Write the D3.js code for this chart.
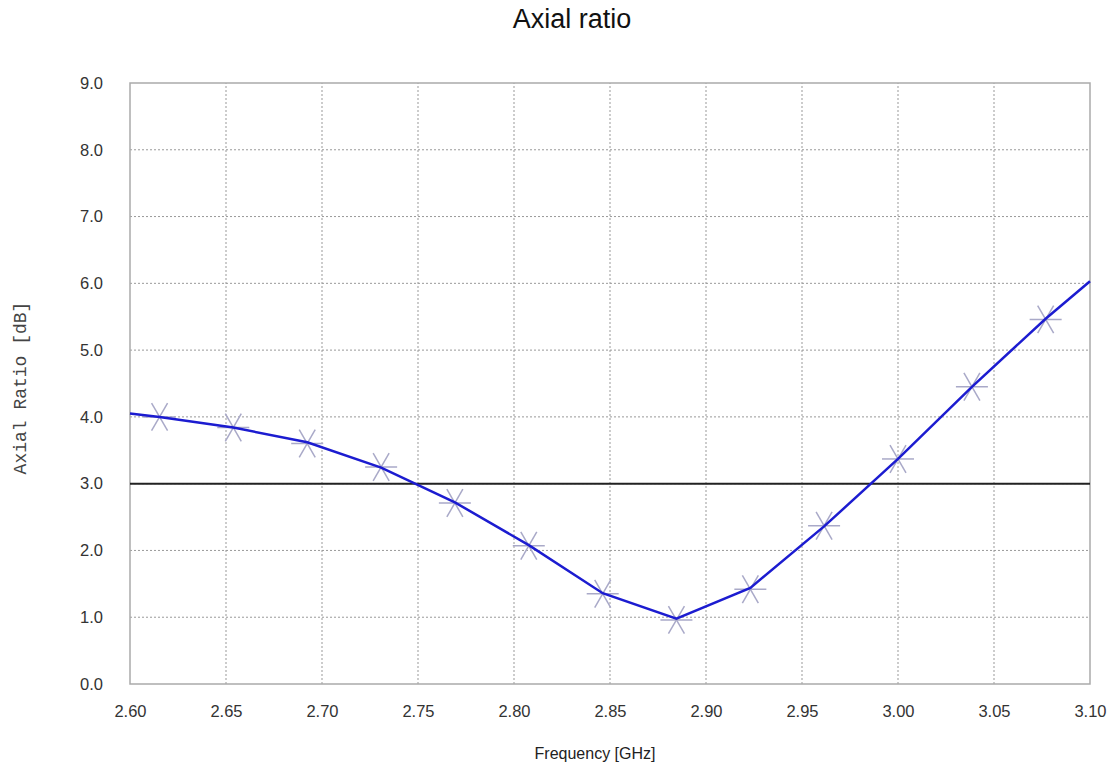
<!DOCTYPE html>
<html>
<head>
<meta charset="utf-8">
<script src="https://cdn.jsdelivr.net/npm/d3@7"></script>
<style>
  body { margin: 0; background: #fff; }
  text { font-family: "Liberation Sans", Arial, sans-serif; }
</style>
</head>
<body>
<script>
// curve values (line goes from plot edge to plot edge through the measured points)
var lineFreq = [2.600, 2.6154, 2.6538, 2.6923, 2.7308, 2.7692, 2.8077, 2.8462, 2.8846, 2.9231, 2.9615, 3.000, 3.0385, 3.0769, 3.100];
var lineAR   = [4.05, 4.00, 3.84, 3.62, 3.24, 2.72, 2.08, 1.36, 0.98, 1.44, 2.36, 3.37, 4.45, 5.47, 6.03];
// asterisk markers
var markFreq = [2.6154, 2.6538, 2.6923, 2.7308, 2.7692, 2.8077, 2.8462, 2.8846, 2.9231, 2.9615, 3.000, 3.0385, 3.0769];
var markAR   = [4.00, 3.84, 3.60, 3.25, 2.71, 2.07, 1.35, 0.96, 1.42, 2.37, 3.37, 4.45, 5.46];
var xTicks = [2.60, 2.65, 2.70, 2.75, 2.80, 2.85, 2.90, 2.95, 3.00, 3.05, 3.10];
var yTicks = [0, 1, 2, 3, 4, 5, 6, 7, 8, 9];
var limit = 3.0;

var w = 1112, h = 767;
var margin = {left: 130, right: 22, top: 83, bottom: 83};
var svg = d3.select("body").append("svg").attr("width", w).attr("height", h);

var x = d3.scaleLinear().domain([2.6, 3.1]).range([margin.left, w - margin.right]);
var y = d3.scaleLinear().domain([0, 9]).range([h - margin.bottom, margin.top]);

// grid
svg.append("g").selectAll("line").data(xTicks.slice(1, -1)).enter().append("line")
    .attr("x1", d => x(d)).attr("x2", d => x(d))
    .attr("y1", y(0)).attr("y2", y(9))
    .attr("stroke", "#999").attr("stroke-width", 1).attr("stroke-dasharray", "2,2");
svg.append("g").selectAll("line").data(yTicks.slice(1, -1)).enter().append("line")
    .attr("x1", x(2.6)).attr("x2", x(3.1))
    .attr("y1", d => y(d)).attr("y2", d => y(d))
    .attr("stroke", "#999").attr("stroke-width", 1).attr("stroke-dasharray", "2,2");

// frame
svg.append("rect")
    .attr("x", x(2.6)).attr("y", y(9))
    .attr("width", x(3.1) - x(2.6)).attr("height", y(0) - y(9))
    .attr("fill", "none").attr("stroke", "#aaa").attr("stroke-width", 1.5);

// axes
var xAxis = svg.append("g").attr("transform", "translate(0," + y(0) + ")")
    .call(d3.axisBottom(x).tickValues(xTicks).tickFormat(d3.format(".2f")).tickSize(0).tickPadding(21));
var yAxis = svg.append("g").attr("transform", "translate(" + x(2.6) + ",0)")
    .call(d3.axisLeft(y).tickValues(yTicks).tickFormat(d3.format(".1f")).tickSize(0).tickPadding(27));
[xAxis, yAxis].forEach(function(a) {
    a.select(".domain").remove();
    a.selectAll("text").attr("fill", "#333").style("font-size", "16.5px")
        .style("font-family", "'Liberation Sans', Arial, sans-serif");
});

// 3 dB limit
svg.append("line")
    .attr("x1", x(2.6)).attr("x2", x(3.1))
    .attr("y1", y(limit)).attr("y2", y(limit))
    .attr("stroke", "#222").attr("stroke-width", 2);

// markers (six-armed asterisk)
var arm = 16;
var mk = svg.append("g").selectAll("g").data(markFreq).enter().append("g")
    .attr("transform", (d, i) => "translate(" + x(d) + "," + y(markAR[i]) + ")")
    .attr("stroke", "#a9a9c8").attr("stroke-width", 1.5);
[0, 60, 120].forEach(function(a) {
    var r = a * Math.PI / 180;
    mk.append("line")
        .attr("x1", -arm * Math.cos(r)).attr("y1", -arm * Math.sin(r))
        .attr("x2", arm * Math.cos(r)).attr("y2", arm * Math.sin(r));
});

// curve
var pts = lineFreq.map((f, i) => [x(f), y(lineAR[i])]);
svg.append("path")
    .attr("d", d3.line()(pts))
    .attr("fill", "none").attr("stroke", "#1c1cd0").attr("stroke-width", 2.5);

// titles
svg.append("text").attr("x", 572).attr("y", 28).attr("text-anchor", "middle")
    .style("font-size", "27px").attr("fill", "#111").text("Axial ratio");
svg.append("text").attr("x", 595).attr("y", 759).attr("text-anchor", "middle")
    .style("font-size", "16px").attr("fill", "#222").text("Frequency [GHz]");
svg.append("text").attr("transform", "translate(26,388) rotate(-90)").attr("text-anchor", "middle")
    .style("font-size", "18px").style("font-family", "'Liberation Mono', 'Courier New', monospace")
    .attr("fill", "#444").text("Axial Ratio [dB]");
</script>
</body>
</html>
